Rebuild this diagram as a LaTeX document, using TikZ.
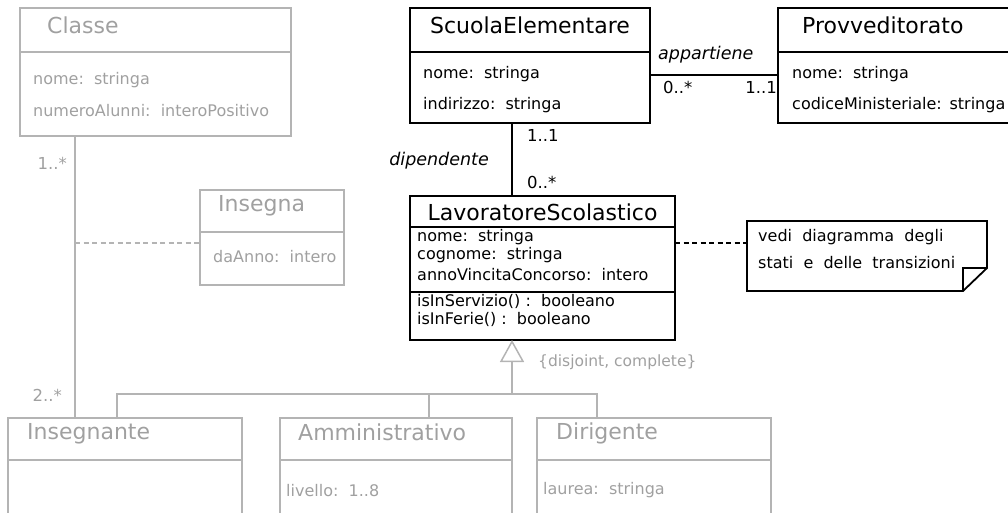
\documentclass[tikz,border=0pt]{standalone}
\usepackage{fontspec}
\setmainfont{DejaVu Sans}
\usetikzlibrary{positioning,arrows.meta}
\definecolor{paleline}{HTML}{B4B4B4}
\definecolor{paletext}{HTML}{A0A0A0}

\tikzset{
  classbox/.style={draw, line width=1.8pt, inner sep=0pt, outer sep=0pt, anchor=north west},
  greybox/.style={classbox, draw=paleline, line width=1.5pt},
  nametext/.style={inner sep=0pt, anchor=base west, font=\fontsize{22}{26}\selectfont},
  attrtext/.style={inner sep=0pt, anchor=base west, font=\fontsize{16}{19}\selectfont},
  roletext/.style={inner sep=0pt, anchor=base west, font=\fontsize{17.5}{20}\selectfont\itshape},
  multtext/.style={inner sep=0pt, anchor=base west, font=\fontsize{16.5}{20}\selectfont},
  greytext/.style={text=paletext},
  greyline/.style={draw=paleline, line width=1.5pt},
  notelink/.style={line width=1.8pt, dash pattern=on 5pt off 3.5pt},
}

\begin{document}
\begin{tikzpicture}[x=1pt, y=-1pt]
  \def\fold{24pt}
  \def\foldh{47pt}
  \useasboundingbox (0,0) rectangle (1008,513);
  \clip (0,0) rectangle (1008,513);

  % Classe
  \node [greybox, minimum width=271pt, minimum height=44pt] (classe title) at (20,8) {};
  \node [greybox, minimum width=271pt, minimum height=84pt] (classe attr) at (classe title.south west) {};
  \node [below right = 25.5pt and 27pt of classe title.north west, nametext, greytext] (classe name) {Classe};
  \node [below right = 33pt and 13pt of classe attr.north west, attrtext, greytext] (classe nome) {nome:\ \ stringa};
  \node [below right = 64.5pt and 13pt of classe attr.north west, attrtext, greytext] (classe alunni) {numeroAlunni:\ \ interoPositivo};

  % Insegna (association class)
  \node [greybox, minimum width=144pt, minimum height=42pt] (insegna title) at (200,190) {};
  \node [greybox, minimum width=144pt, minimum height=53pt] (insegna attr) at (insegna title.south west) {};
  \node [below right = 21.5pt and 18pt of insegna title.north west, nametext, greytext] (insegna name) {Insegna};
  \node [below right = 30.5pt and 13pt of insegna attr.north west, attrtext, greytext] (insegna anno) {daAnno:\ \ intero};

  % ScuolaElementare
  \node [classbox, minimum width=240pt, minimum height=44pt] (scuola title) at (410,8) {};
  \node [classbox, minimum width=240pt, minimum height=71pt] (scuola attr) at (scuola title.south west) {};
  \node [below = 25.5pt of scuola title.north, nametext, anchor=base] (scuola name) {ScuolaElementare};
  \node [below right = 27pt and 13pt of scuola attr.north west, attrtext] (scuola nome) {nome:\ \ stringa};
  \node [below right = 58pt and 13pt of scuola attr.north west, attrtext] (scuola indirizzo) {indirizzo:\ \ stringa};

  % Provveditorato
  \node [classbox, minimum width=240pt, minimum height=44pt] (prov title) at (778,8) {};
  \node [classbox, minimum width=240pt, minimum height=71pt] (prov attr) at (prov title.south west) {};
  \node [below right = 25.5pt and 24pt of prov title.north west, nametext] (prov name) {Provveditorato};
  \node [below right = 27pt and 14pt of prov attr.north west, attrtext] (prov nome) {nome:\ \ stringa};
  \node [below right = 58pt and 14pt of prov attr.north west, attrtext] (prov codice) {codiceMinisteriale:\ \,stringa};

  % LavoratoreScolastico
  \node [classbox, minimum width=265pt, minimum height=31pt] (lav title) at (410,196) {};
  \node [classbox, minimum width=265pt, minimum height=65pt] (lav attr) at (lav title.south west) {};
  \node [classbox, minimum width=265pt, minimum height=48pt] (lav ops) at (lav attr.south west) {};
  \node [below = 24pt of lav title.north, nametext, anchor=base] (lav name) {LavoratoreScolastico};
  \node [below right = 14pt and 7pt of lav attr.north west, attrtext] (lav nome) {nome:\ \ stringa};
  \node [below right = 32.5pt and 7pt of lav attr.north west, attrtext] (lav cognome) {cognome:\ \ stringa};
  \node [below right = 53pt and 7pt of lav attr.north west, attrtext] (lav anno) {annoVincitaConcorso:\ \ intero};
  \node [below right = 14pt and 7pt of lav ops.north west, attrtext] (lav servizio) {isInServizio()\ :\ \ booleano};
  \node [below right = 32pt and 7pt of lav ops.north west, attrtext] (lav ferie) {isInFerie()\ :\ \ booleano};

  % Note
  \node [inner sep=0pt, outer sep=0pt, anchor=north west, minimum width=240pt, minimum height=70pt] (note) at (747,221) {};
  \draw [line width=1.8pt] (note.north west) -- (note.north east) -- ([yshift=-\foldh]note.north east)
    -- ([xshift=-\fold]note.south east) -- (note.south west) -- cycle;
  \draw [line width=1.8pt] ([xshift=-\fold]note.south east) |- ([yshift=-\foldh]note.north east);
  \node [below right = 20pt and 11pt of note.north west, attrtext] (note line1) {vedi\ \ diagramma\ \ degli};
  \node [below right = 47pt and 11pt of note.north west, attrtext] (note line2) {stati\ \ e\ \ delle\ \ transizioni};
  \draw [notelink] ([yshift=-16pt]lav attr.north east) -- ([yshift=-22pt]note.north west);

  % appartiene
  \draw [line width=1.8pt] ([yshift=-23pt]scuola attr.north east) -- ([yshift=-23pt]prov attr.north west);
  \node [below right = 8pt and 8pt of scuola attr.north east, roletext] (appartiene) {appartiene};
  \node [below right = 42pt and 13pt of scuola attr.north east, multtext] (app many) {0..*};
  \node [below left = 42pt and 1pt of prov attr.north west, multtext, anchor=base east] (app one) {1..1};

  % dipendente
  \coordinate (dip top) at ([xshift=102pt]scuola attr.south west);
  \draw [line width=1.8pt] (dip top) -- (dip top |- lav title.north);
  \node [below right = 19pt and 15pt of dip top, multtext] (dip one) {1..1};
  \node [below left = 43pt and 23pt of dip top, roletext, anchor=base east] (dipendente) {dipendente};
  \node [below right = 65pt and 15pt of dip top, multtext] (dip many) {0..*};

  % Subclasses
  \node [greybox, minimum width=234pt, minimum height=42pt] (ins title) at (8,418) {};
  \node [greybox, minimum width=234pt, minimum height=90pt] (ins attr) at (ins title.south west) {};
  \node [below right = 21pt and 19pt of ins title.north west, nametext, greytext] (ins name) {Insegnante};

  \node [greybox, minimum width=232pt, minimum height=42pt] (amm title) at (280,418) {};
  \node [greybox, minimum width=232pt, minimum height=90pt] (amm attr) at (amm title.south west) {};
  \node [below right = 22pt and 18pt of amm title.north west, nametext, greytext] (amm name) {Amministrativo};
  \node [below right = 36pt and 6pt of amm attr.north west, attrtext, greytext] (amm livello) {livello:\ \ 1..8};

  \node [greybox, minimum width=234pt, minimum height=42pt] (dir title) at (537,418) {};
  \node [greybox, minimum width=234pt, minimum height=90pt] (dir attr) at (dir title.south west) {};
  \node [below right = 21pt and 19pt of dir title.north west, nametext, greytext] (dir name) {Dirigente};
  \node [below right = 34pt and 6pt of dir attr.north west, attrtext, greytext] (dir laurea) {laurea:\ \ stringa};

  % Generalization
  \coordinate (gen tip) at ([xshift=102pt]lav ops.south west);
  \coordinate (fork) at ([yshift=-54pt]gen tip);
  \coordinate (ins top) at ([xshift=109pt]ins title.north west);
  \coordinate (amm top) at ([xshift=149pt]amm title.north west);
  \coordinate (dir top) at ([xshift=60pt]dir title.north west);
  \draw [greyline, -{Triangle[open, length=22pt, width=24pt, line width=1.5pt]}] (fork) -- (gen tip);
  \draw [greyline] (ins top) -- (ins top |- fork) -- (dir top |- fork) -- (dir top);
  \draw [greyline] (amm top) -- (amm top |- fork);
  \node [below right = 26pt and 26pt of gen tip, attrtext, greytext, font=\fontsize{15.5}{18}\selectfont] (constraint) {\{disjoint,\ complete\}};

  % Classe -- Insegnante
  \coordinate (classe foot) at ([xshift=55pt]classe attr.south west);
  \coordinate (ins foot) at (classe foot |- ins title.north);
  \coordinate (insegna link) at ([yshift=-107pt]classe foot);
  \draw [greyline] (classe foot) -- (ins foot);
  \draw [greyline, dash pattern=on 5pt off 3.5pt] (insegna link) -- (insegna link -| insegna attr.west);
  \node [below left = 34pt and 8pt of classe foot, multtext, greytext, anchor=base east] (classe many) {1..*};
  \node [above left = 17pt and 13pt of ins foot, multtext, greytext, anchor=base east] (ins many) {2..*};
\end{tikzpicture}
\end{document}
